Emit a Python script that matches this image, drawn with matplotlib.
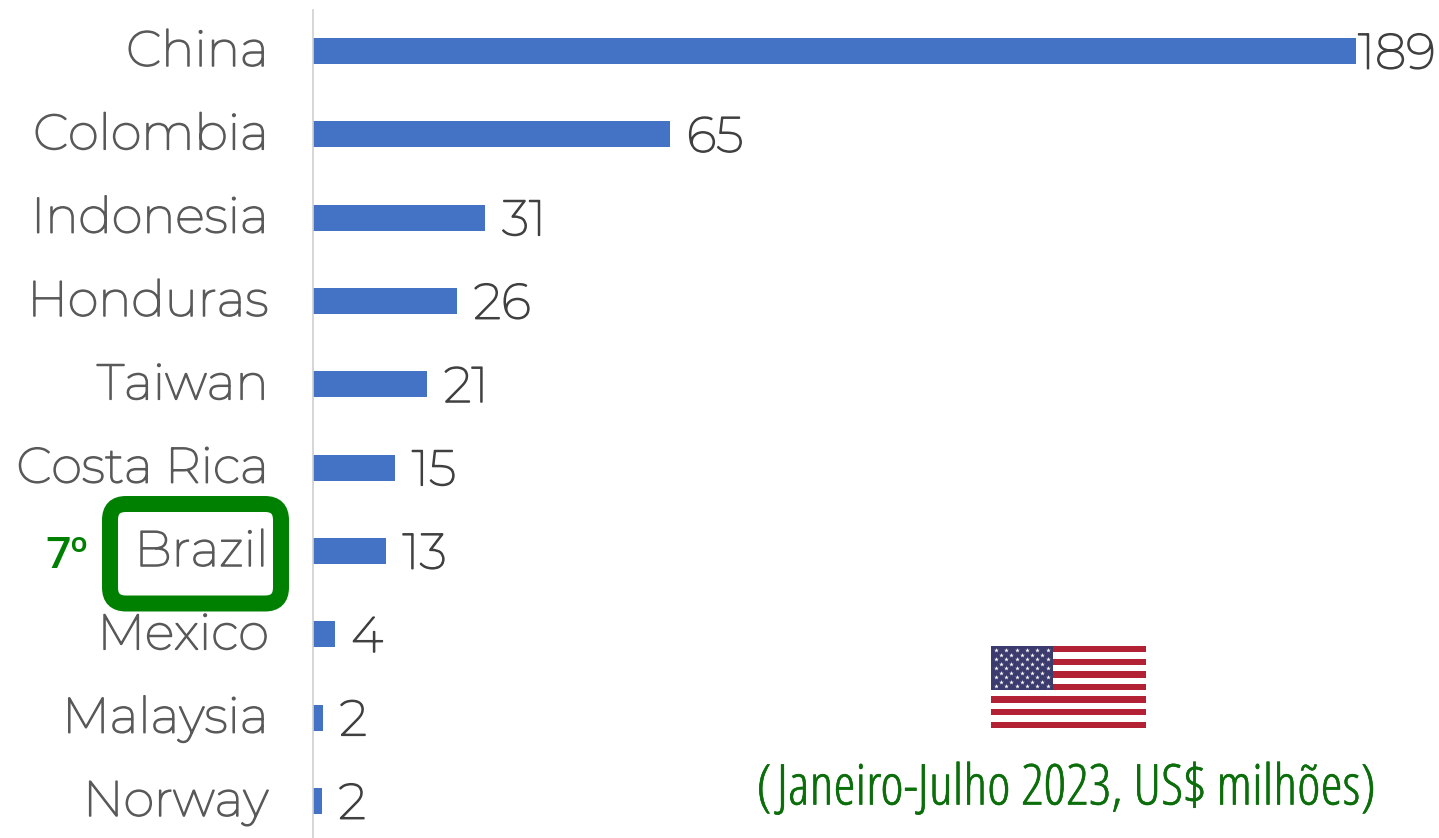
import matplotlib
matplotlib.use('Agg')
import matplotlib.pyplot as plt
import matplotlib.patheffects as pe
from matplotlib.patches import FancyBboxPatch, Rectangle
from matplotlib.transforms import ScaledTranslation
import numpy as np

countries = ['China', 'Colombia', 'Indonesia', 'Honduras', 'Taiwan',
             'Costa Rica', 'Brazil', 'Mexico', 'Malaysia', 'Norway']
values = [189, 65, 31, 26, 21, 15, 13, 4, 2, 2]
# drawn lengths differ slightly from the rounded labels
bar_values = [189, 64.7, 31.2, 26.1, 20.7, 14.9, 13.2, 3.9, 1.8, 1.6]

W, H = 1439, 838
BLUE = '#4472C4'
GREEN = '#008000'

plt.rcParams['font.family'] = ['Montserrat', 'Open Sans', 'DejaVu Sans']


def thicken(color, width):
    # the installed face comes out very thin, so fatten it with a stroke
    return [pe.withStroke(linewidth=width, foreground=color)]


fig = plt.figure(figsize=(W / 100, H / 100), dpi=100)
ax = fig.add_axes([313 / W, 0, (1356 - 313) / W, (838 - 10) / H])

y = np.arange(len(countries))
ax.barh(y, bar_values, height=0.315, color=BLUE)
ax.set_xlim(0, 189)
ax.set_ylim(9.444, -0.492)
ax.set_yticks(y)
ax.set_yticklabels(countries, fontsize=35.8, color='#595959')
ax.tick_params(axis='y', length=0, pad=32)
ax.set_xticks([])
for s in ['top', 'right', 'bottom']:
    ax.spines[s].set_visible(False)
ax.spines['left'].set_color('#D0D0D0')
ax.spines['left'].set_linewidth(1.2)
ax.patch.set_alpha(0)

shift = ScaledTranslation(0, 3.5 / 100, fig.dpi_scale_trans)
for lab in ax.get_yticklabels():
    lab.set_transform(lab.get_transform() + shift)
    lab.set_path_effects(thicken('#595959', 1.1))

for i, (v, b) in enumerate(zip(values, bar_values)):
    off = 1.5 if v == 189 else 12
    ax.annotate(str(v), xy=(b, i), xytext=(off, -3), textcoords='offset points',
                fontsize=35.8, color='#404040', va='center', ha='left',
                annotation_clip=False, path_effects=thicken('#404040', 1.1))

# overlay in pixel coordinates
ov = fig.add_axes([0, 0, 1, 1])
ov.set_xlim(0, W)
ov.set_ylim(H, 0)
ov.axis('off')
ov.patch.set_alpha(0)

ov.add_patch(FancyBboxPatch((110, 504), 171, 99.5, boxstyle='round,pad=0,rounding_size=16',
                            fc='none', ec=GREEN, lw=11.5))
ov.text(67, 556, '7º', fontsize=32, color=GREEN, fontweight='semibold',
        family=['Open Sans', 'DejaVu Sans'], ha='center', va='center')

# flag
fx, fy, fw, fh = 991, 646, 155, 82
stripe = fh / 13
for k in range(13):
    col = '#B22234' if k % 2 == 0 else 'white'
    ov.add_patch(Rectangle((fx, fy + k * stripe), fw, stripe, fc=col, ec='none'))
ov.add_patch(Rectangle((fx, fy), 62, stripe * 7, fc='#3C3B6E', ec='none'))
for r in range(9):
    n = 6 if r % 2 == 0 else 5
    x0 = fx + (5 if r % 2 == 0 else 10)
    ov.scatter(x0 + np.arange(n) * 10.3, [fy + 4 + r * 4.5] * n, marker='*', s=12,
               color='white', linewidths=0)

ov.text(1066, 790, '(Janeiro-Julho 2023, US$ milhões)', fontsize=40.5, color='#0B6E0B',
        family=['Open Sans', 'DejaVu Sans'], stretch='condensed', ha='center', va='center',
        path_effects=thicken('#0B6E0B', 0.4))

fig.savefig('out.png', dpi=100)
